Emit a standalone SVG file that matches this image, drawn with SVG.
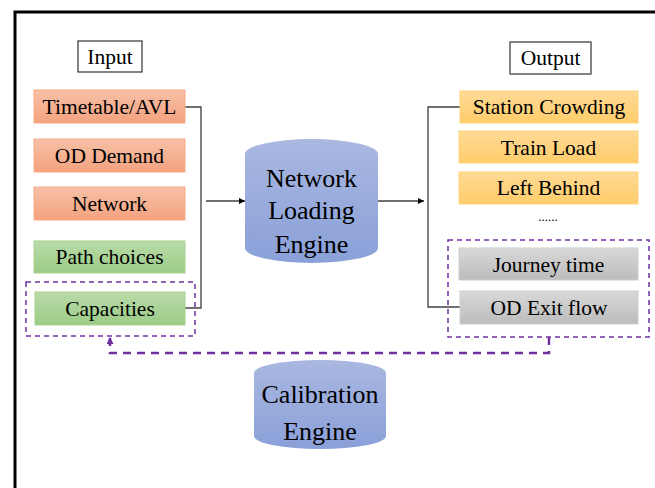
<svg xmlns="http://www.w3.org/2000/svg" width="655" height="488" viewBox="0 0 655 488">
<defs>
<linearGradient id="gOr" x1="0" y1="0" x2="0" y2="1"><stop offset="0" stop-color="#f7c0a6"/><stop offset="1" stop-color="#f4a27f"/></linearGradient>
<linearGradient id="gGr" x1="0" y1="0" x2="0" y2="1"><stop offset="0" stop-color="#b9dba9"/><stop offset="1" stop-color="#9ccb86"/></linearGradient>
<linearGradient id="gYe" x1="0" y1="0" x2="0" y2="1"><stop offset="0" stop-color="#ffdb96"/><stop offset="1" stop-color="#ffcc6a"/></linearGradient>
<linearGradient id="gGy" x1="0" y1="0" x2="0" y2="1"><stop offset="0" stop-color="#d8d8d8"/><stop offset="1" stop-color="#bcbcbc"/></linearGradient>
<linearGradient id="gBl" x1="0" y1="0" x2="0" y2="1"><stop offset="0" stop-color="#aab8e1"/><stop offset="1" stop-color="#8aa0d8"/></linearGradient>
<marker id="arr" viewBox="0 0 10 10" refX="10" refY="5" markerWidth="6" markerHeight="6" orient="auto" markerUnits="userSpaceOnUse"><path d="M0,0 L10,5 L0,10 Z" fill="#000"/></marker>
<marker id="arrP" viewBox="0 0 10 10" refX="10" refY="5" markerWidth="7" markerHeight="7" orient="auto" markerUnits="userSpaceOnUse"><path d="M0,0 L10,5 L0,10 Z" fill="#7030a0"/></marker>
</defs>
<style>
text{font-family:"Liberation Serif",serif;fill:#000;text-anchor:middle}
.lbl{font-size:21.5px}
.eng{font-size:26px}
.or{fill:url(#gOr);stroke:#f6ab86;stroke-width:1}
.gr{fill:url(#gGr);stroke:#a9d192;stroke-width:1}
.ye{fill:url(#gYe);stroke:#ffd47c;stroke-width:1}
.gy{fill:url(#gGy);stroke:#cfcfcf;stroke-width:1}
.hd{fill:#fff;stroke:#333;stroke-width:1.2}
.cyl{fill:url(#gBl)}
.con{fill:none;stroke:#404040;stroke-width:1.3}
.dbox{fill:none;stroke:#7030a0;stroke-width:1.5;stroke-dasharray:5 4}
.dline{fill:none;stroke:#7030a0;stroke-width:2.5;stroke-dasharray:8 6}
</style>
<rect width="655" height="488" fill="#fff"/>
<path d="M15,488 V12 H655" fill="none" stroke="#000" stroke-width="3"/>

<g id="connectors">
<path class="con" d="M185,107 H201 V308 H185"/>
<path class="con" d="M206,201 H245" marker-end="url(#arr)"/>
<path class="con" d="M378,201 H424" marker-end="url(#arr)"/>
<path class="con" d="M460,107 H428 V307 H460"/>
<path class="dline" d="M549,337 V353 H110 V337" marker-end="url(#arrP)"/>
</g>

<g id="input-label"><rect class="hd" x="78" y="41" width="64" height="31"/><text class="lbl" x="110" y="64">Input</text></g>
<g id="timetable"><rect class="or" x="34" y="90" width="151" height="33"/><text class="lbl" x="109.5" y="114">Timetable/AVL</text></g>
<g id="od-demand"><rect class="or" x="34" y="139" width="151" height="33"/><text class="lbl" x="109.5" y="163">OD Demand</text></g>
<g id="network"><rect class="or" x="34" y="187" width="151" height="33"/><text class="lbl" x="109.5" y="211">Network</text></g>
<g id="path-choices"><rect class="gr" x="34" y="241" width="151" height="32"/><text class="lbl" x="109.5" y="264">Path choices</text></g>
<g id="capacities"><rect class="gr" x="35" y="292" width="150" height="33"/><text class="lbl" x="110" y="316">Capacities</text></g>
<g id="calib-input-group"><rect class="dbox" x="26" y="282" width="169" height="54"/></g>

<g id="network-loading-engine">
<path class="cyl" d="M245,154 A66.5,15 0 0 1 378,154 V248 A66.5,15 0 0 1 245,248 Z"/>
<text class="eng" x="311.5" y="187">Network</text>
<text class="eng" x="311.5" y="219">Loading</text>
<text class="eng" x="311.5" y="253">Engine</text>
</g>

<g id="output-label"><rect class="hd" x="510" y="42" width="81" height="32"/><text class="lbl" x="550.5" y="65">Output</text></g>
<g id="station-crowding"><rect class="ye" x="460" y="91" width="178" height="32"/><text class="lbl" x="549" y="114">Station Crowding</text></g>
<g id="train-load"><rect class="ye" x="459" y="131" width="179" height="32"/><text class="lbl" x="548.5" y="155">Train Load</text></g>
<g id="left-behind"><rect class="ye" x="459" y="172" width="179" height="32"/><text class="lbl" x="548.5" y="195">Left Behind</text></g>
<g id="ellipsis"><text x="548" y="221" style="font-size:13px">......</text></g>
<g id="journey-time"><rect class="gy" x="459" y="248" width="179" height="32"/><text class="lbl" x="548.5" y="272">Journey time</text></g>
<g id="od-exit-flow"><rect class="gy" x="460" y="291" width="178" height="33"/><text class="lbl" x="549" y="315">OD Exit flow</text></g>
<g id="calib-output-group"><rect class="dbox" x="448" y="240" width="201" height="97"/></g>

<g id="calibration-engine">
<path class="cyl" d="M254,373 A66,13 0 0 1 386,373 V436 A66,13 0 0 1 254,436 Z"/>
<text class="eng" x="320" y="403">Calibration</text>
<text class="eng" x="320" y="440">Engine</text>
</g>
</svg>
